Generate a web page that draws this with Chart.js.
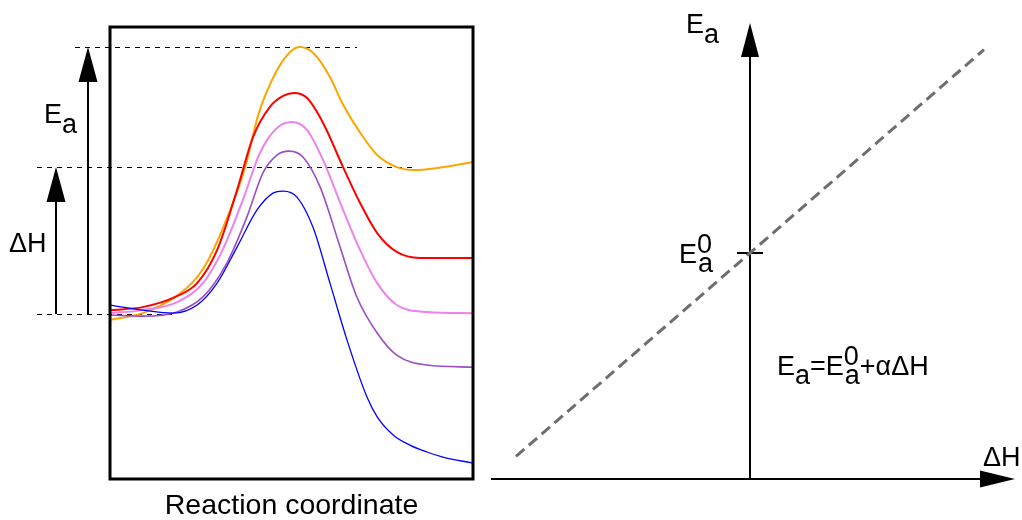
<!DOCTYPE html>
<html>
<head>
<meta charset="utf-8">
<script src="https://cdn.jsdelivr.net/npm/chart.js@4.4.0/dist/chart.umd.min.js"></script>
<style>
  body { margin: 0; background: #fff; }
  #wrap { position: relative; width: 1022px; height: 520px; overflow: hidden; }
  canvas { position: absolute; top: 0; }
  #left { left: 0; }
  #right { left: 490px; }
</style>
</head>
<body>
<div id="wrap">
  <canvas id="left" width="490" height="520"></canvas>
  <canvas id="right" width="532" height="520"></canvas>
</div>
<script>
// energy profiles: reaction coordinate 0..100, energy relative to the reactants
var xOrange = [0, 9, 18, 24, 27.5, 32, 37, 41, 46, 49.6, 52.3, 56, 60.6, 64, 69, 73.6, 79, 84, 92, 100];
var yOrange = [-2, 0.3, 5.7, 12.3, 19, 31.3, 48, 67, 81.3, 87.3, 89, 87, 79, 70.3, 60.3, 53, 49, 48, 49, 50.7];

var xRed = [0, 9, 18, 24, 29.5, 35, 39.4, 44, 47.7, 50.7, 54.3, 58.7, 64.2, 68.9, 73.6, 79, 85.4, 91.7, 100];
var yRed = [1.3, 2.3, 5.7, 10.3, 21.3, 41.3, 59, 69, 72.7, 73.7, 72, 63.7, 49, 37, 27, 20.7, 18.7, 18.7, 18.7];

var xViolet = [0, 9, 18.5, 25.6, 31, 36.6, 41.3, 46, 50.1, 54.3, 58.7, 64.2, 68.9, 73.6, 79, 87.3, 100];
var yViolet = [0.3, 1.3, 4, 10.3, 21.3, 38, 53.7, 62, 64, 61.3, 51.3, 34.7, 21.3, 10.3, 3, 0.7, 0.3];

var xPurple = [0, 9, 18.5, 25.6, 32.2, 37.7, 42.1, 46, 49.3, 53.2, 57.9, 63.4, 68, 73.6, 79, 87.3, 100];
var yPurple = [-0.3, -0.7, 0.7, 5.7, 17, 32.3, 47, 53, 54.3, 52.3, 42.3, 22.3, 5.7, -6.3, -13.7, -17, -17.7];

var xBlue = [0, 9, 17.4, 24, 29.5, 35, 40.5, 44.9, 47.7, 51.5, 55.9, 60.6, 65.3, 70.8, 73.6, 78, 82.6, 87.3, 91.7, 100];
var yBlue = [3, 1.3, 0.3, 3, 10.3, 22.3, 34.7, 40.3, 41, 39, 29, 10.3, -8.7, -27.7, -34.3, -40.3, -43.7, -46, -47.7, -49.7];

// reference levels: reactants, products (orange), transition state (orange)
var levelReactant = 0;
var levelProduct = 49;
var levelTS = 89;

// Evans-Polanyi line
var deltaH = [-9, 0, 9];
var eaLine = [1, 10, 19];
var ea0 = 10;

var FONT = '"Liberation Sans", Arial, Helvetica, sans-serif';

function pts(xs, ys) {
  return xs.map(function (x, i) { return { x: x, y: ys[i] }; });
}

function curve(xs, ys, color, w) {
  return {
    data: pts(xs, ys),
    borderColor: color,
    borderWidth: w,
    pointRadius: 0,
    fill: false,
    cubicInterpolationMode: 'monotone'
  };
}

function dashed(ctx, x1, x2, y) {
  ctx.save();
  ctx.strokeStyle = '#000';
  ctx.lineWidth = 1;
  ctx.setLineDash([5, 5]);
  ctx.beginPath();
  ctx.moveTo(x1, y + 0.5);
  ctx.lineTo(x2, y + 0.5);
  ctx.stroke();
  ctx.restore();
}

function arrowUp(ctx, x, yFrom, yTip, len, half) {
  ctx.save();
  ctx.strokeStyle = '#000';
  ctx.fillStyle = '#000';
  ctx.lineWidth = 2;
  ctx.beginPath();
  ctx.moveTo(x, yFrom);
  ctx.lineTo(x, yTip + len - 2);
  ctx.stroke();
  ctx.beginPath();
  ctx.moveTo(x, yTip);
  ctx.lineTo(x - half, yTip + len);
  ctx.lineTo(x + half, yTip + len);
  ctx.closePath();
  ctx.fill();
  ctx.restore();
}

function arrowRight(ctx, y, xFrom, xTip, len, half) {
  ctx.save();
  ctx.strokeStyle = '#000';
  ctx.fillStyle = '#000';
  ctx.lineWidth = 2;
  ctx.beginPath();
  ctx.moveTo(xFrom, y);
  ctx.lineTo(xTip - len + 2, y);
  ctx.stroke();
  ctx.beginPath();
  ctx.moveTo(xTip, y);
  ctx.lineTo(xTip - len, y - half);
  ctx.lineTo(xTip - len, y + half);
  ctx.closePath();
  ctx.fill();
  ctx.restore();
}

// draws a sequence of pieces; dy moves the baseline,
// stack pieces put a superscript over a subscript with one advance
function rich(ctx, x, y, pieces) {
  ctx.save();
  ctx.font = '27px ' + FONT;
  ctx.fillStyle = '#000';
  ctx.textBaseline = 'alphabetic';
  ctx.textAlign = 'left';
  pieces.forEach(function (p) {
    if (p.stack) {
      ctx.fillText(p.sup, x, y - 10);
      ctx.fillText(p.sub, x + 1, y + 9);
      x += Math.max(ctx.measureText(p.sup).width, ctx.measureText(p.sub).width + 1);
    } else {
      ctx.fillText(p.t, x, y + (p.dy || 0));
      x += ctx.measureText(p.t).width;
    }
  });
  ctx.restore();
}

var leftDecor = {
  id: 'leftDecor',
  beforeDatasetsDraw: function (chart) {
    var ctx = chart.ctx, ys = chart.scales.y;
    dashed(ctx, 75, 357, Math.round(ys.getPixelForValue(levelTS)));
    dashed(ctx, 37, 415, Math.round(ys.getPixelForValue(levelProduct)));
    dashed(ctx, 37, 173, Math.round(ys.getPixelForValue(levelReactant)));
  },
  afterDraw: function (chart) {
    var ctx = chart.ctx, a = chart.chartArea, ys = chart.scales.y;
    var yTS = ys.getPixelForValue(levelTS);
    var yP = ys.getPixelForValue(levelProduct);
    var yR = ys.getPixelForValue(levelReactant);
    ctx.save();
    ctx.strokeStyle = '#000';
    ctx.lineWidth = 3;
    ctx.strokeRect(a.left, a.top, a.right - a.left, a.bottom - a.top);
    ctx.restore();
    arrowUp(ctx, 88, yR, yTS, 35, 9.5);
    arrowUp(ctx, 56, yR, yP, 35, 9.5);
    rich(ctx, 44, 123, [{ t: 'E' }, { t: 'a', dy: 10 }]);
    rich(ctx, 9, 252, [{ t: '\u0394H' }]);
    ctx.save();
    ctx.font = '28.5px ' + FONT;
    ctx.fillStyle = '#000';
    ctx.textAlign = 'center';
    ctx.textBaseline = 'alphabetic';
    ctx.fillText('Reaction coordinate', (a.left + a.right) / 2, 514);
    ctx.restore();
  }
};

new Chart(document.getElementById('left'), {
  type: 'line',
  data: {
    datasets: [
      curve(xBlue, yBlue, '#0000ff', 1.3),
      curve(xPurple, yPurple, '#9b4dc6', 1.6),
      curve(xViolet, yViolet, '#ee82ee', 2),
      curve(xRed, yRed, '#ff0000', 2),
      curve(xOrange, yOrange, '#ffa500', 2)
    ]
  },
  options: {
    responsive: false,
    animation: false,
    layout: { padding: { left: 110, right: 17, top: 27, bottom: 41 } },
    scales: {
      x: { type: 'linear', min: 0, max: 100, display: false },
      y: { min: -55, max: 95.7, display: false }
    },
    plugins: { legend: { display: false }, tooltip: { enabled: false } }
  },
  plugins: [leftDecor]
});

var rightDecor = {
  id: 'rightDecor',
  beforeDatasetsDraw: function (chart) {
    var ctx = chart.ctx, xs = chart.scales.x, ys = chart.scales.y;
    var x0 = xs.getPixelForValue(0);
    var y0 = ys.getPixelForValue(0);
    arrowUp(ctx, x0, y0 + 1, 23, 34, 9);
    arrowRight(ctx, y0, 1, 525, 35, 8.5);
    var yE = ys.getPixelForValue(ea0);
    ctx.save();
    ctx.strokeStyle = '#000';
    ctx.lineWidth = 2;
    ctx.beginPath();
    ctx.moveTo(x0 - 13, yE);
    ctx.lineTo(x0 + 13, yE);
    ctx.stroke();
    ctx.restore();
  },
  afterDraw: function (chart) {
    var ctx = chart.ctx;
    rich(ctx, 196, 33, [{ t: 'E' }, { t: 'a', dy: 10 }]);
    rich(ctx, 189, 263, [{ t: 'E' }, { stack: true, sup: '0', sub: 'a' }]);
    rich(ctx, 287, 375, [{ t: 'E' }, { t: 'a', dy: 9 }, { t: '=E' }, { stack: true, sup: '0', sub: 'a' }, { t: '+\u03b1\u0394H' }]);
    rich(ctx, 493, 466, [{ t: '\u0394H' }]);
  }
};

new Chart(document.getElementById('right'), {
  type: 'line',
  data: {
    datasets: [{
      data: pts(deltaH, eaLine),
      borderColor: '#6e6e6e',
      borderWidth: 3,
      borderDash: [11, 6],
      pointRadius: 0,
      fill: false
    }]
  },
  options: {
    responsive: false,
    animation: false,
    layout: { padding: { left: 0, right: 12, top: 27, bottom: 41 } },
    scales: {
      x: { type: 'linear', min: -10, max: 10, display: false },
      y: { min: 0, max: 20, display: false }
    },
    plugins: { legend: { display: false }, tooltip: { enabled: false } }
  },
  plugins: [rightDecor]
});
</script>
</body>
</html>
